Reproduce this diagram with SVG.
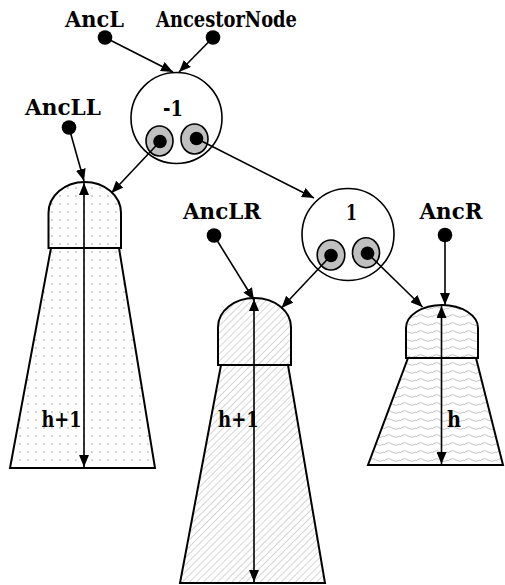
<svg xmlns="http://www.w3.org/2000/svg" width="505" height="585" viewBox="0 0 505 585">
<style>
.lbl{font-family:"DejaVu Serif","Liberation Serif",serif;font-weight:bold;font-size:22px;fill:#000}
.ln{stroke:#000;stroke-width:1.6;fill:none}
.shape{stroke:#000;stroke-width:2}
.dot{fill:#000}
.ring{fill:#c0c0c0;stroke:#000;stroke-width:1.6}
.big{fill:#fff;stroke:#000;stroke-width:1.6}
</style>
<defs>
<marker id="ah" viewBox="0 0 12 10" refX="12" refY="5" markerWidth="12" markerHeight="10" markerUnits="userSpaceOnUse" orient="auto-start-reverse">
<path d="M0,0 L12,5 L0,10 Z" fill="#000"/>
</marker>
<pattern id="pDots" width="8" height="8" patternUnits="userSpaceOnUse">
<rect width="8" height="8" fill="#fff"/>
<circle cx="4" cy="4" r="0.9" fill="#c0c0c0"/>
</pattern>
<pattern id="pHatch" width="5" height="5" patternUnits="userSpaceOnUse" patternTransform="rotate(45)">
<rect width="5" height="5" fill="#fff"/>
<line x1="0" y1="0" x2="0" y2="5" stroke="#c4c4c4" stroke-width="1.4"/>
</pattern>
<pattern id="pWave" width="16" height="8" patternUnits="userSpaceOnUse">
<rect width="16" height="8" fill="#fff"/>
<path d="M0,5 Q4,1 8,4 T16,4" stroke="#c4c4c4" stroke-width="1" fill="none"/>
</pattern>
</defs>

<g id="node-left">
<path class="shape" fill="url(#pDots)" d="M51,248 L119,248 L155,468 L10,468 Z"/>
<path class="shape" fill="url(#pDots)" d="M48.5,248 V213 A36.2,31 0 0 1 121,213 V248 Z"/>
<text class="lbl" x="41.5" y="427" textLength="40" lengthAdjust="spacingAndGlyphs">h+1</text>
</g>

<g id="node-mid">
<path class="shape" fill="url(#pHatch)" d="M221,365 L288,365 L325,583 L180,583 Z"/>
<path class="shape" fill="url(#pHatch)" d="M218,365 V327 A36.5,29 0 0 1 291,327 V365 Z"/>
<text class="lbl" x="218" y="427" textLength="41" lengthAdjust="spacingAndGlyphs">h+1</text>
</g>

<g id="node-right">
<path class="shape" fill="url(#pWave)" d="M408,358 L476,358 L503,465 L368,465 Z"/>
<path class="shape" fill="url(#pWave)" d="M406,358 V328 A36,23 0 0 1 478,328 V358 Z"/>
<text class="lbl" x="447" y="427" textLength="14" lengthAdjust="spacingAndGlyphs">h</text>
</g>

<g id="avl-node-1">
<circle class="big" cx="176.5" cy="118" r="45.5"/>
<text class="lbl" x="163" y="116" textLength="20" lengthAdjust="spacingAndGlyphs">-1</text>
<ellipse class="ring" cx="159.5" cy="141" rx="13.5" ry="15"/>
<ellipse class="ring" cx="194.5" cy="139" rx="13.5" ry="15"/>
<circle class="dot" cx="160" cy="141.5" r="6.8"/>
<circle class="dot" cx="196.5" cy="138.5" r="6.8"/>
</g>

<g id="avl-node-2">
<circle class="big" cx="348" cy="234.5" r="46"/>
<text class="lbl" x="346" y="220" textLength="11" lengthAdjust="spacingAndGlyphs">1</text>
<ellipse class="ring" cx="331" cy="255" rx="13.8" ry="15"/>
<ellipse class="ring" cx="366" cy="252.7" rx="13.5" ry="15"/>
<circle class="dot" cx="331" cy="255.5" r="6.8"/>
<circle class="dot" cx="367.5" cy="253.3" r="6.8"/>
</g>

<g id="anc-l"><text class="lbl" x="65" y="27" textLength="59" lengthAdjust="spacingAndGlyphs">AncL</text><circle class="dot" cx="105" cy="37.5" r="7.3"/></g>
<g id="anc-node"><text class="lbl" x="156" y="27" textLength="141" lengthAdjust="spacingAndGlyphs">AncestorNode</text><circle class="dot" cx="213" cy="37.5" r="7.3"/></g>
<g id="anc-ll"><text class="lbl" x="25" y="115" textLength="76" lengthAdjust="spacingAndGlyphs">AncLL</text><circle class="dot" cx="69" cy="127.5" r="7.3"/></g>
<g id="anc-lr"><text class="lbl" x="183" y="219" textLength="78" lengthAdjust="spacingAndGlyphs">AncLR</text><circle class="dot" cx="214" cy="235.5" r="7.3"/></g>
<g id="anc-r"><text class="lbl" x="419.5" y="219" textLength="63" lengthAdjust="spacingAndGlyphs">AncR</text><circle class="dot" cx="445" cy="235" r="7.3"/></g>

<g id="connectors">
<line class="ln" x1="105" y1="37.5" x2="173" y2="72" marker-end="url(#ah)"/>
<line class="ln" x1="213" y1="37.5" x2="179" y2="72" marker-end="url(#ah)"/>
<line class="ln" x1="69" y1="127.5" x2="84" y2="181" marker-end="url(#ah)"/>
<line class="ln" x1="160" y1="141.5" x2="111.5" y2="193" marker-end="url(#ah)"/>
<line class="ln" x1="196.5" y1="138.5" x2="314" y2="198" marker-end="url(#ah)"/>
<line class="ln" x1="214" y1="235.5" x2="254" y2="300" marker-end="url(#ah)"/>
<line class="ln" x1="331" y1="255.5" x2="281.5" y2="308" marker-end="url(#ah)"/>
<line class="ln" x1="367.5" y1="253.3" x2="422.5" y2="307" marker-end="url(#ah)"/>
<line class="ln" x1="445" y1="235" x2="445" y2="305" marker-end="url(#ah)"/>
<line class="ln" x1="84" y1="183" x2="84" y2="467" marker-start="url(#ah)" marker-end="url(#ah)"/>
<line class="ln" x1="254" y1="299" x2="254" y2="582" marker-start="url(#ah)" marker-end="url(#ah)"/>
<line class="ln" x1="441.5" y1="306" x2="441.5" y2="464" marker-start="url(#ah)" marker-end="url(#ah)"/>
</g>
</svg>
